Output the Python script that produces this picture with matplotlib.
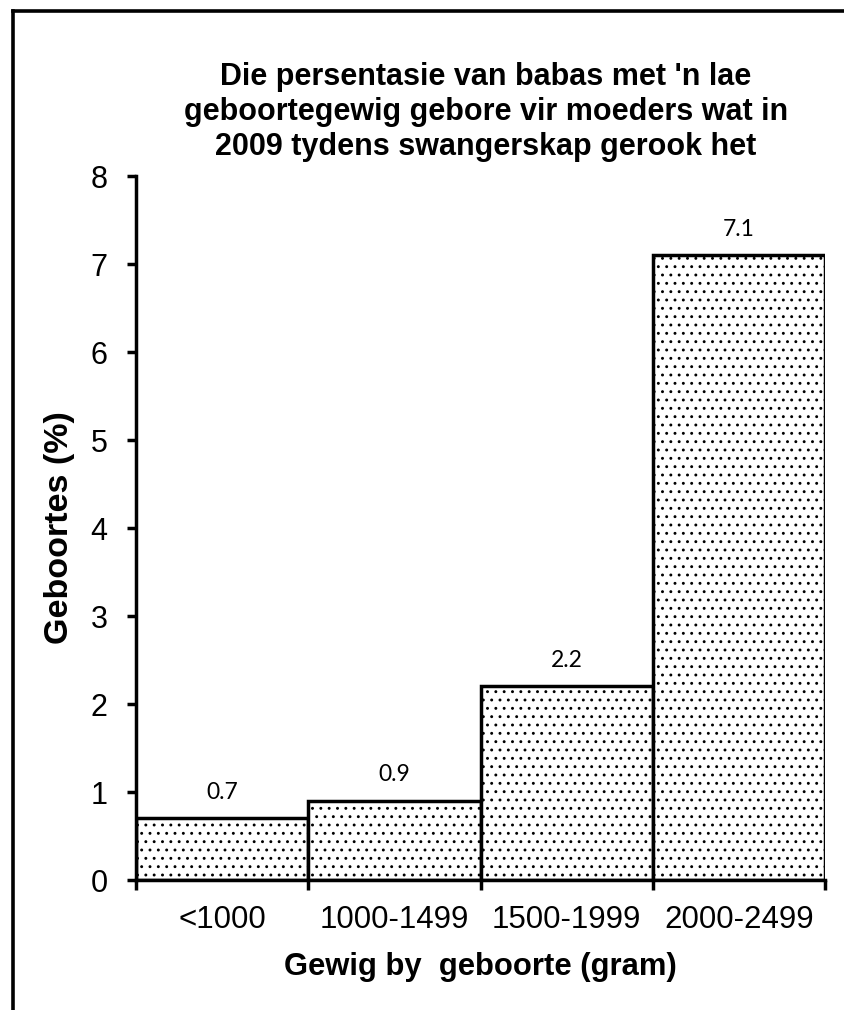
import matplotlib
matplotlib.use("Agg")
import matplotlib.pyplot as plt
from matplotlib.lines import Line2D

# data
categories = ["<1000", "1000-1499", "1500-1999", "2000-2499"]
percentages = [0.7, 0.9, 2.2, 7.1]
value_labels = ["0.7", "0.9", "2.2", "7.1"]
y_ticks = [0, 1, 2, 3, 4, 5, 6, 7, 8]

title = "Die persentasie van babas met 'n lae\ngeboortegewig gebore vir moeders wat in\n2009 tydens swangerskap gerook het"
x_label = "Gewig by  geboorte (gram)"
y_label = "Geboortes (%)"

plt.rcParams['font.family'] = ['Liberation Sans', 'DejaVu Sans']
plt.rcParams['hatch.linewidth'] = 0.9

fig = plt.figure(figsize=(8.44, 10.10), dpi=100)
ax = fig.add_axes([136 / 844, 130 / 1010, 689 / 844, 704 / 1010])

x = list(range(len(categories)))
bars = ax.bar(x, percentages, width=1.0, color='white', edgecolor='black',
              linewidth=2.5, hatch='..')

for xi, val, lab in zip(x, percentages, value_labels):
    ax.annotate(lab, (xi, val), xytext=(0, 14), textcoords='offset points',
                ha='center', va='baseline', fontsize=16.5, family=['Lato', 'DejaVu Sans'])

ax.set_xlim(-0.5, len(categories) - 0.5)
ax.set_ylim(0, 8)
ax.set_yticks(y_ticks)
ax.set_xticks(x)
ax.set_xticklabels(categories)
ax.set_xticks([i - 0.5 for i in range(len(categories) + 1)], minor=True)

ax.tick_params(axis='x', which='major', length=0, pad=18, labelsize=22.5)
ax.tick_params(axis='x', which='minor', length=7.5, width=2.5, direction='out')
ax.tick_params(axis='y', length=6.5, width=2.5, pad=14, labelsize=22)

for side in ['top', 'right']:
    ax.spines[side].set_visible(False)
for side in ['left', 'bottom']:
    ax.spines[side].set_linewidth(2.5)

ax.set_xlabel(x_label, fontsize=22.3, fontweight='bold', labelpad=12)
ax.set_ylabel(y_label, fontsize=24.5, fontweight='bold', labelpad=11)

fig.text(486 / 844, 1 - 112 / 1010, title, ha='center', va='center',
         fontsize=22, fontweight='bold', linespacing=1.2)

# outer frame (only left and top edges visible)
fx, fy = 13.5 / 844, 1 - 11 / 1010
fig.add_artist(Line2D([fx, fx], [0, fy], color='black', linewidth=2.6,
                      transform=fig.transFigure, solid_capstyle='projecting'))
fig.add_artist(Line2D([fx, 1], [fy, fy], color='black', linewidth=2.6,
                      transform=fig.transFigure, solid_capstyle='projecting'))

fig.savefig("out.png", dpi=100)
